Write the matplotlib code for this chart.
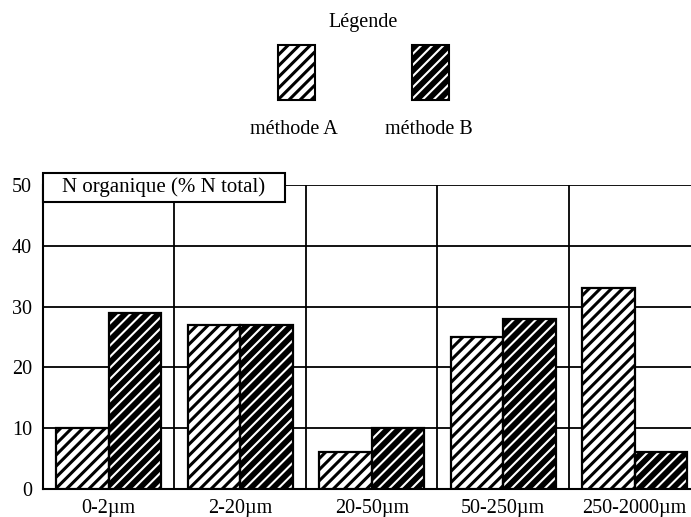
import matplotlib.pyplot as plt
from matplotlib.patches import Rectangle
import numpy as np

plt.rcParams['font.family'] = ['Liberation Serif', 'DejaVu Serif']

categories = ['0-2\u00b5m', '2-20\u00b5m', '20-50\u00b5m', '50-250\u00b5m', '250-2000\u00b5m']
method_a = [10, 27, 6, 25, 33]
method_b = [29, 27, 10, 28, 6]
yticks = [0, 10, 20, 30, 40, 50]

HATCH = '///'


def stripes(patch, dark):
    if hasattr(patch, 'set_hatch_linewidth'):
        patch.set_hatch_linewidth(1.5 if dark else 2.2)


def hatched_bar(ax, x, h, dark):
    # white stripes on black for B, black stripes on white for A
    face = 'black' if dark else 'white'
    stripe = 'white' if dark else 'black'
    bars = ax.bar(x, h, width=0.4, color=face, edgecolor=stripe, hatch=HATCH,
                  linewidth=0, zorder=3)
    for b in bars:
        stripes(b, dark)
    ax.bar(x, h, width=0.4, fill=False, edgecolor='black', linewidth=1.6, zorder=4)


fig = plt.figure(figsize=(6.91, 5.17), dpi=100)
ax = fig.add_axes([0.0622, 0.0542, 0.9515, 0.588])

x = np.arange(len(categories))
hatched_bar(ax, x - 0.2, method_a, False)
hatched_bar(ax, x + 0.2, method_b, True)

ax.set_xlim(-0.5, 4.5)
ax.set_ylim(0, 50)
for y in yticks[1:]:
    ax.axhline(y, color='black', lw=1.3, zorder=1)
for sep in x[:-1] + 0.5:
    ax.axvline(sep, color='black', lw=1.3, zorder=1)

ax.set_yticks(yticks)
ax.set_xticks(x)
ax.set_xticklabels(categories)
ax.tick_params(length=0, labelsize=14.5, pad=7.5)
ax.tick_params(axis='y', pad=8)
for s in ['top', 'right']:
    ax.spines[s].set_visible(False)
for s in ['left', 'bottom']:
    ax.spines[s].set_linewidth(1.5)

# title box sitting on the 50 line
trans = ax.get_yaxis_transform()
ax.add_patch(Rectangle((0, 47.2), 0.368, 4.8, transform=trans, fc='white',
                       ec='black', lw=1.5, zorder=6, clip_on=False))
ax.text(0.183, 49.6, 'N organique (% N total)', fontsize=15, va='center',
        ha='center', transform=trans, zorder=7)

# legend drawn in figure coordinates
fig.text(0.525, 0.957, 'L\u00e9gende', ha='center', va='center', fontsize=14.5)
for x0, dark, label, lx in [(0.402, False, 'm\u00e9thode A', 0.425),
                            (0.596, True, 'm\u00e9thode B', 0.621)]:
    r = Rectangle((x0, 0.807), 0.054, 0.106, transform=fig.transFigure,
                  fc='black' if dark else 'white', ec='white' if dark else 'black',
                  hatch=HATCH, lw=0)
    stripes(r, dark)
    fig.patches.append(r)
    fig.patches.append(Rectangle((x0, 0.807), 0.054, 0.106, transform=fig.transFigure,
                                 fill=False, ec='black', lw=1.5))
    fig.text(lx, 0.749, label, ha='center', va='center', fontsize=14.5)

fig.savefig('out.png', dpi=100)
